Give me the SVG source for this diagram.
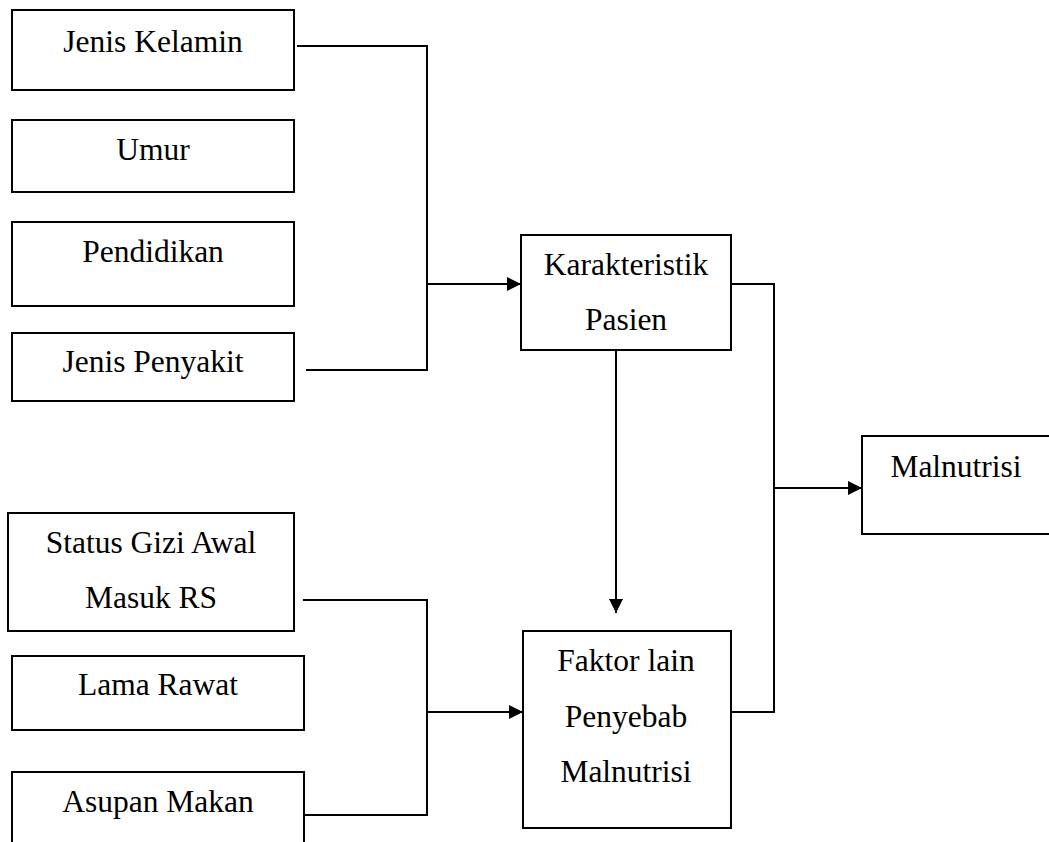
<svg xmlns="http://www.w3.org/2000/svg" width="1049" height="842" viewBox="0 0 1049 842">
<style>
.box{fill:#fff;stroke:#000;stroke-width:2}
.lbl{font-family:"Liberation Serif","Times New Roman",serif;font-size:31.5px;fill:#000;text-anchor:middle}
.con{fill:none;stroke:#000;stroke-width:2}
</style>
<defs>
<marker id="arr" markerUnits="userSpaceOnUse" markerWidth="16" markerHeight="16" viewBox="0 0 16 16" refX="15" refY="8" orient="auto">
<path d="M1,1 L15,8 L1,15 Z" fill="#000"/>
</marker>
</defs>
<rect width="1049" height="842" fill="#fff"/>
<g id="connectors">
<polyline class="con" points="297,46 427,46 427,370 306,370"/>
<line class="con" x1="427" y1="284" x2="521" y2="284" marker-end="url(#arr)"/>
<polyline class="con" points="731,284 774,284 774,712 731,712"/>
<line class="con" x1="774" y1="488" x2="862" y2="488" marker-end="url(#arr)"/>
<line class="con" x1="616" y1="350" x2="616" y2="613" marker-end="url(#arr)"/>
<polyline class="con" points="303,600 427,600 427,815 304,815"/>
<line class="con" x1="427" y1="712" x2="523" y2="712" marker-end="url(#arr)"/>
</g>
<g id="jenis-kelamin"><rect class="box" x="12" y="10" width="282" height="80"/><text class="lbl" x="153" y="52">Jenis Kelamin</text></g>
<g id="umur"><rect class="box" x="12" y="120" width="282" height="72"/><text class="lbl" x="153" y="160">Umur</text></g>
<g id="pendidikan"><rect class="box" x="12" y="222" width="282" height="84"/><text class="lbl" x="153" y="262">Pendidikan</text></g>
<g id="jenis-penyakit"><rect class="box" x="12" y="333" width="282" height="68"/><text class="lbl" x="153" y="372">Jenis Penyakit</text></g>
<g id="status-gizi"><rect class="box" x="8" y="513" width="286" height="118"/><text class="lbl" x="151" y="553">Status Gizi Awal</text><text class="lbl" x="151" y="608">Masuk RS</text></g>
<g id="lama-rawat"><rect class="box" x="12" y="656" width="292" height="74"/><text class="lbl" x="158" y="695">Lama Rawat</text></g>
<g id="asupan-makan"><rect class="box" x="12" y="772" width="292" height="90"/><text class="lbl" x="158" y="812">Asupan Makan</text></g>
<g id="karakteristik"><rect class="box" x="521" y="235" width="210" height="115"/><text class="lbl" x="626" y="275">Karakteristik</text><text class="lbl" x="626" y="330">Pasien</text></g>
<g id="malnutrisi"><rect class="box" x="862" y="436" width="200" height="98"/><text class="lbl" x="956" y="477">Malnutrisi</text></g>
<g id="faktor-lain"><rect class="box" x="523" y="631" width="208" height="197"/><text class="lbl" x="626" y="671">Faktor lain</text><text class="lbl" x="626" y="727">Penyebab</text><text class="lbl" x="626" y="782">Malnutrisi</text></g>
</svg>
